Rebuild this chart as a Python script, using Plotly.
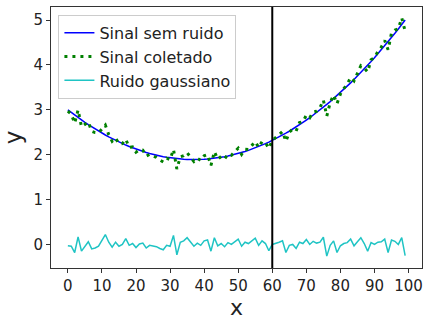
import plotly.graph_objects as go

x_vals = list(range(100))

sinal_limpo = [
    3.000, 2.941, 2.883, 2.827, 2.773, 2.720, 2.669, 2.620, 2.572, 2.526,
    2.481, 2.438, 2.397, 2.357, 2.319, 2.282, 2.247, 2.214, 2.182, 2.152,
    2.124, 2.097, 2.072, 2.048, 2.027, 2.006, 1.988, 1.970, 1.955, 1.941,
    1.929, 1.918, 1.909, 1.902, 1.896, 1.892, 1.890, 1.889, 1.890, 1.892,
    1.896, 1.902, 1.909, 1.918, 1.928, 1.940, 1.954, 1.969, 1.986, 2.005,
    2.025, 2.047, 2.070, 2.095, 2.122, 2.150, 2.180, 2.212, 2.245, 2.280,
    2.316, 2.354, 2.394, 2.435, 2.478, 2.522, 2.568, 2.616, 2.665, 2.716,
    2.769, 2.823, 2.879, 2.937, 2.996, 3.056, 3.119, 3.182, 3.248, 3.315,
    3.384, 3.454, 3.526, 3.600, 3.675, 3.752, 3.831, 3.911, 3.993, 4.076,
    4.161, 4.248, 4.336, 4.426, 4.517, 4.610, 4.705, 4.801, 4.899, 4.999,
]

ruido = [
    -0.03, -0.04, -0.18, 0.17, -0.15, -0.05, 0.06, -0.10, -0.08, -0.04,
    0.10, 0.22, 0.05, -0.06, 0.05, -0.04, 0.00, 0.13, -0.02, 0.02,
    -0.07, 0.01, 0.03, -0.08, -0.02, -0.03, -0.05, -0.09, -0.12, -0.02,
    -0.04, 0.20, -0.23, 0.05, 0.08, 0.15, 0.06, -0.04, 0.03, -0.02,
    0.08, 0.10, -0.15, 0.15, -0.03, 0.02, -0.05, 0.04, 0.00, 0.06,
    0.12, -0.04, 0.05, 0.02, 0.07, 0.14, -0.02, 0.08, 0.02, -0.14,
    0.00, 0.02, 0.05, 0.08, -0.18, -0.02, 0.00, -0.09, 0.05, 0.02,
    0.11, 0.00, 0.07, 0.03, 0.05, 0.16, -0.26, -0.02, 0.08, -0.18,
    -0.03, 0.02, 0.04, 0.12, -0.03, 0.06, 0.15, 0.02, -0.15, 0.04,
    0.00, 0.05, 0.06, 0.12, -0.18, 0.10, 0.07, 0.00, 0.15, -0.25,
]

sinal_coletado = [
    2.970, 2.901, 2.703, 2.997, 2.623, 2.670, 2.729, 2.520, 2.492, 2.486,
    2.581, 2.658, 2.447, 2.297, 2.369, 2.242, 2.247, 2.344, 2.162, 2.172,
    2.054, 2.107, 2.102, 1.968, 2.007, 1.976, 1.938, 1.880, 1.835, 1.921,
    1.889, 2.118, 1.679, 1.952, 1.976, 2.042, 1.950, 1.849, 1.920, 1.872,
    1.976, 2.002, 1.759, 2.068, 1.898, 1.960, 1.904, 2.009, 1.986, 2.065,
    2.145, 2.007, 2.120, 2.115, 2.192, 2.290, 2.160, 2.292, 2.265, 2.140,
    2.316, 2.374, 2.444, 2.515, 2.298, 2.502, 2.568, 2.526, 2.715, 2.736,
    2.879, 2.823, 2.949, 2.967, 3.046, 3.216, 2.859, 3.162, 3.328, 3.135,
    3.354, 3.474, 3.566, 3.720, 3.645, 3.812, 3.981, 3.931, 3.843, 4.116,
    4.161, 4.298, 4.396, 4.546, 4.337, 4.710, 4.775, 4.801, 5.049, 4.749,
]

x_ticks = [0, 10, 20, 30, 40, 50, 60, 70, 80, 90, 100]
y_ticks = [0, 1, 2, 3, 4, 5]
corte_x = 60

fig = go.Figure()
fig.add_trace(go.Scatter(x=x_vals, y=sinal_limpo, mode="lines", name="Sinal sem ruido",
                         line=dict(color="#0000ff", width=1.5)))
fig.add_trace(go.Scatter(x=x_vals, y=sinal_coletado, mode="lines", name="Sinal coletado",
                         line=dict(color="#008000", width=3, dash="3px,5px")))
fig.add_trace(go.Scatter(x=x_vals, y=ruido, mode="lines", name="Ruido gaussiano",
                         line=dict(color="#1fc4c4", width=1.5)))

fig.add_shape(type="line", xref="x", yref="paper", x0=corte_x, x1=corte_x, y0=0, y1=1,
              line=dict(color="black", width=2))

axis_common = dict(showline=True, linecolor="#333", linewidth=1, mirror=True,
                   ticks="outside", ticklen=4, tickcolor="#333", showgrid=False,
                   zeroline=False, tickfont=dict(size=15, color="#222"))

fig.update_xaxes(range=[-4.95, 103.95], tickvals=x_ticks,
                 title=dict(text="x", font=dict(size=22, color="#222"), standoff=8),
                 **axis_common)
fig.update_yaxes(range=[-0.525, 5.29], tickvals=y_ticks,
                 title=dict(text="y", font=dict(size=23, color="#222"), standoff=8),
                 **axis_common)

fig.update_layout(
    width=425, height=320,
    margin=dict(l=51, r=2, t=7, b=46),
    paper_bgcolor="white", plot_bgcolor="white",
    font=dict(family="DejaVu Sans", color="#222"),
    showlegend=True,
    legend=dict(x=0.02, y=0.97, xanchor="left", yanchor="top",
                bgcolor="rgba(255,255,255,0.85)", bordercolor="#cccccc", borderwidth=1,
                font=dict(size=16, color="#222"), itemwidth=30, tracegroupgap=0),
)

fig.write_html("out.html", config={"displayModeBar": False},
               post_script="document.body.style.margin='0';")
